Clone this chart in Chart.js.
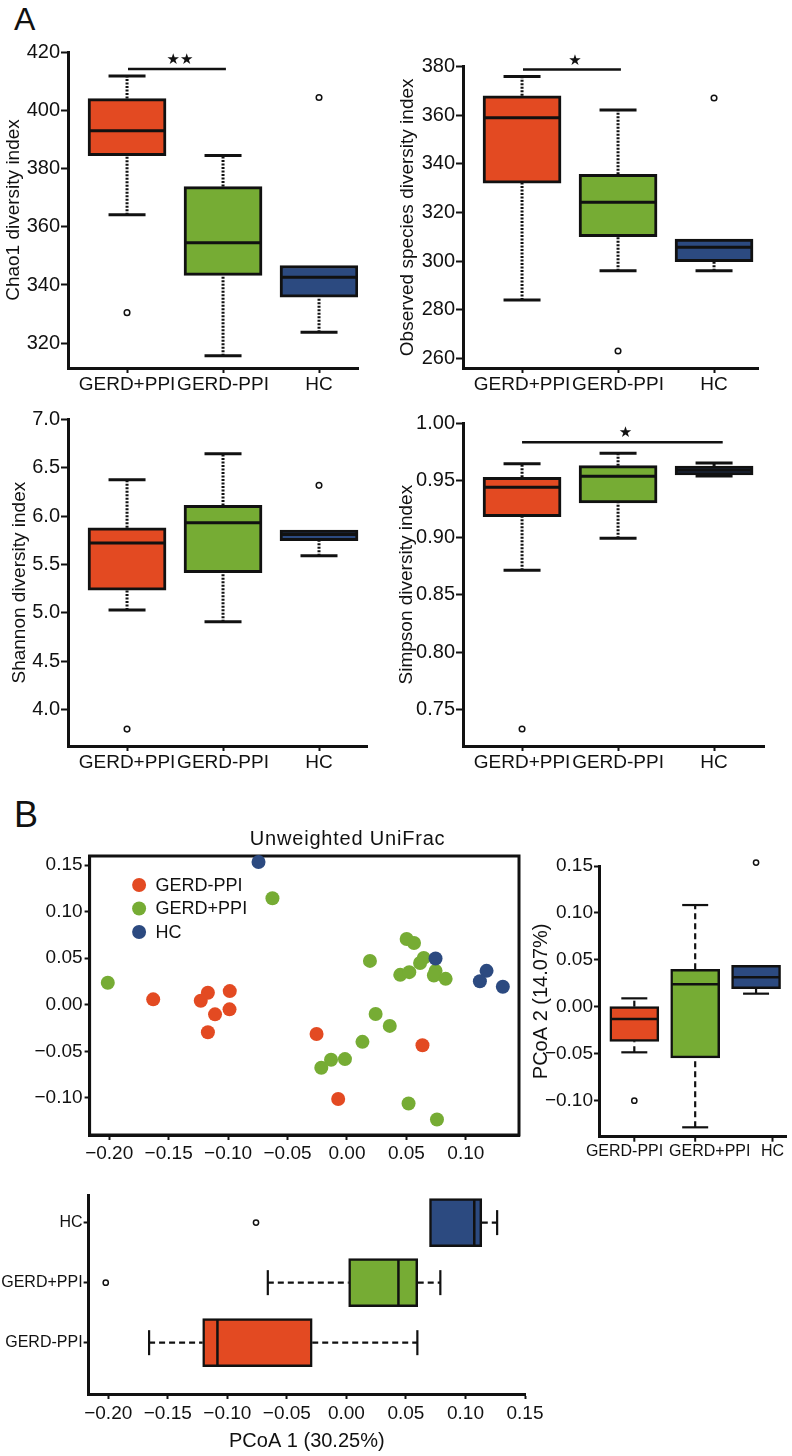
<!DOCTYPE html>
<html>
<head>
<meta charset="utf-8">
<script src="https://cdn.jsdelivr.net/npm/chart.js@4.4.1/dist/chart.umd.min.js"></script>
<style>
  body { margin: 0; background: #fff; width: 792px; height: 1456px; position: relative; overflow: hidden;
         font-family: "Liberation Sans", Arial, sans-serif; }
  canvas { position: absolute; }
  .tag { position: absolute; line-height: 1; color: #111; }
</style>
</head>
<body>
<div class="tag" style="left:14px;top:3px;font-size:32px">A</div>
<div class="tag" style="left:14px;top:797px;font-size:36px">B</div>
<canvas id="chao1"></canvas>
<canvas id="observed"></canvas>
<canvas id="shannon"></canvas>
<canvas id="simpson"></canvas>
<canvas id="pcoa"></canvas>
<canvas id="pcoa2box"></canvas>
<canvas id="pcoa1box"></canvas>
<script>
// ---- données ----
const groupsA = ['GERD+PPI', 'GERD-PPI', 'HC'];

// Chao1
const chao1Lo  = [364.1, 315.7, 323.8];
const chao1Q1  = [384.4, 343.3, 335.8];
const chao1Med = [393.0, 354.5, 342.7];
const chao1Q3  = [404.0, 373.8, 346.7];
const chao1Hi  = [411.8, 384.5, 346.7];
const chao1Out = [[330.5], [], [404.4]];
const chao1Ticks = [320, 340, 360, 380, 400, 420];

// Observed species
const obsLo  = [284.0, 296.0, 296.0];
const obsQ1  = [332.1, 310.0, 299.8];
const obsMed = [359.0, 324.2, 305.7];
const obsQ3  = [368.0, 335.7, 309.1];
const obsHi  = [376.0, 362.2, 309.1];
const obsOut = [[], [263.0], [367.1]];
const obsTicks = [260, 280, 300, 320, 340, 360, 380];

// Shannon
const shanLo  = [5.028, 4.907, 5.590];
const shanQ1  = [5.234, 5.414, 5.745];
const shanMed = [5.720, 5.931, 5.810];
const shanQ3  = [5.879, 6.110, 5.855];
const shanHi  = [6.376, 6.645, 5.855];
const shanOut = [[3.797], [], [6.317]];
const shanTicks = [4.0, 4.5, 5.0, 5.5, 6.0, 6.5, 7.0];

// Simpson
const simpLo  = [0.8715, 0.8995, 0.9540];
const simpQ1  = [0.9184, 0.9304, 0.9548];
const simpMed = [0.9440, 0.9537, 0.9589];
const simpQ3  = [0.9528, 0.9630, 0.9627];
const simpHi  = [0.9647, 0.9738, 0.9653];
const simpOut = [[0.7328], [], []];
const simpTicks = [0.75, 0.80, 0.85, 0.90, 0.95, 1.00];

// PCoA (Unweighted UniFrac)
const gerdMinusX = [-0.163, -0.123, -0.117, -0.0986, -0.0988, -0.111, -0.117, -0.0256, -0.0074, 0.0635];
const gerdMinusY = [0.0058, 0.0043, 0.0129, 0.0147, -0.0049, -0.0103, -0.0295, -0.0313, -0.1011, -0.0434];
const gerdPlusX = [-0.2012, -0.0627, 0.0193, 0.0502, 0.0564, 0.0646, 0.0615, 0.0448, 0.0524, 0.0745,
                   0.0731, 0.0830, 0.0241, 0.0360, 0.0130, -0.0017, -0.0134, -0.0216, 0.0518, 0.0757];
const gerdPlusY = [0.0236, 0.1144, 0.0471, 0.0706, 0.0663, 0.0503, 0.0449, 0.0321, 0.0350, 0.0364,
                   0.0314, 0.0278, -0.0099, -0.0227, -0.0398, -0.0583, -0.0590, -0.0676, -0.1060, -0.1231];
const hcX = [-0.0744, 0.0745, 0.1174, 0.1118, 0.1311];
const hcY = [0.1532, 0.0496, 0.0364, 0.0253, 0.0193];
const pcoaXTicks = [-0.20, -0.15, -0.10, -0.05, 0.00, 0.05, 0.10];
const pcoaYTicks = [-0.10, -0.05, 0.00, 0.05, 0.10, 0.15];

// Boîtes PCoA
const groupsB = ['GERD-PPI', 'GERD+PPI', 'HC'];
const pc2Lo  = [-0.0485, -0.1284, 0.0140];
const pc2Q1  = [-0.0368, -0.0545, 0.0193];
const pc2Med = [-0.0130, 0.0239, 0.0314];
const pc2Q3  = [0.0001, 0.0399, 0.0442];
const pc2Hi  = [0.0090, 0.1084, 0.0442];
const pc2Out = [[-0.100], [], [0.1536]];
const pc2LabelAt = [-0.16, 1.24, 2.27];   // les étiquettes ne sont pas centrées sous les boîtes
const pc2MarkAt = [0, 1, 2.27];

const pc1Lo  = [-0.1657, -0.0660, 0.0698];
const pc1Q1  = [-0.1207, 0.0019, 0.0698];
const pc1Med = [-0.1083, 0.0437, 0.1074];
const pc1Q3  = [-0.0287, 0.0599, 0.1137];
const pc1Hi  = [0.0596, 0.0789, 0.1266];
const pc1Out = [[], [-0.2021], [-0.0759]];
const pc1Ticks = [-0.20, -0.15, -0.10, -0.05, 0.00, 0.05, 0.10, 0.15];

const INK = '#111';
const RED = '#E34A22', GREEN = '#76AC34', BLUE = '#2C4A80';
const colorsA = [RED, GREEN, BLUE];
const colorsB = [RED, GREEN, BLUE];

Chart.defaults.font.family = '"Liberation Sans", Arial, sans-serif';
Chart.defaults.color = INK;

const signed = d => v => (v < -1e-9 ? '\u2212' : '') + Math.abs(v).toFixed(d);

function place(id, r) {
  const c = document.getElementById(id);
  c.width = r.w; c.height = r.h;
  c.style.left = r.l + 'px'; c.style.top = r.t + 'px';
  return c;
}

function axis(o) {
  return {
    type: 'linear', min: o.min, max: o.max, offset: false,
    afterBuildTicks: s => { s.ticks = o.ticks.map(v => ({ value: v })); },
    afterFit: s => { if (s.isHorizontal()) s.height = o.size; else s.width = o.size; },
    ticks: { callback: o.fmt, font: { size: o.font }, color: INK, padding: o.pad,
             autoSkip: false, maxRotation: 0, minRotation: 0 },
    grid: { display: true, offset: false, drawOnChartArea: false, drawTicks: true, tickLength: o.tl,
            tickColor: o.tickColor || INK, tickWidth: 2 },
    border: { display: true, color: INK, width: 3 },
    title: o.title ? { display: true, text: o.title, font: { size: o.tsize }, color: INK,
                       padding: o.tpad } : { display: false }
  };
}

// moustaches, médianes et barre de significativité
const boxPlugin = {
  id: 'boxWhisk',
  beforeDatasetsDraw(chart, args, o) {
    const { ctx } = chart;
    const iS = o.horizontal ? chart.scales.y : chart.scales.x;
    const vS = o.horizontal ? chart.scales.x : chart.scales.y;
    ctx.save();
    ctx.strokeStyle = INK;
    o.lo.forEach((lo, i) => {
      const p = iS.getPixelForValue(i);
      const seg = (a, b) => {
        const pa = vS.getPixelForValue(a), pb = vS.getPixelForValue(b);
        ctx.beginPath();
        ctx.lineWidth = o.lw;
        ctx.setLineDash(o.dash);
        if (o.horizontal) { ctx.moveTo(pa, p); ctx.lineTo(pb, p); }
        else { ctx.moveTo(p, pa); ctx.lineTo(p, pb); }
        ctx.stroke();
      };
      const cap = v => {
        const pv = vS.getPixelForValue(v);
        ctx.beginPath();
        ctx.lineWidth = o.lw;
        ctx.setLineDash([]);
        if (o.horizontal) { ctx.moveTo(pv, p - o.cap); ctx.lineTo(pv, p + o.cap); }
        else { ctx.moveTo(p - o.cap, pv); ctx.lineTo(p + o.cap, pv); }
        ctx.stroke();
      };
      if (o.hi[i] > o.q3[i]) { seg(o.q3[i], o.hi[i]); cap(o.hi[i]); }
      if (lo < o.q1[i]) { seg(lo, o.q1[i]); cap(lo); }
    });
    ctx.restore();
  },
  afterDatasetsDraw(chart, args, o) {
    const { ctx } = chart;
    const iS = o.horizontal ? chart.scales.y : chart.scales.x;
    const vS = o.horizontal ? chart.scales.x : chart.scales.y;
    ctx.save();
    ctx.strokeStyle = INK;
    ctx.lineWidth = o.mw;
    o.med.forEach((m, i) => {
      const p = iS.getPixelForValue(i), pm = vS.getPixelForValue(m);
      ctx.beginPath();
      if (o.horizontal) { ctx.moveTo(pm, p - o.half); ctx.lineTo(pm, p + o.half); }
      else { ctx.moveTo(p - o.half, pm); ctx.lineTo(p + o.half, pm); }
      ctx.stroke();
    });
    if (o.marks) {
      // repères de catégorie dessinés à part des étiquettes
      ctx.lineWidth = 2;
      o.marks.forEach(v => {
        const x = iS.getPixelForValue(v);
        ctx.beginPath(); ctx.moveTo(x, iS.top); ctx.lineTo(x, iS.top + 5); ctx.stroke();
      });
    }
    if (o.sig) {
      const x0 = iS.getPixelForValue(o.sig.from), x1 = iS.getPixelForValue(o.sig.to);
      const y = vS.getPixelForValue(o.sig.y);
      ctx.lineWidth = 2.5;
      ctx.beginPath(); ctx.moveTo(x0, y); ctx.lineTo(x1, y); ctx.stroke();
      ctx.fillStyle = INK;
      ctx.font = '15px "DejaVu Sans"';
      ctx.textAlign = 'center'; ctx.textBaseline = 'middle';
      ctx.fillText(o.sig.text, (x0 + x1) / 2 + 3, y - 9);
    }
    ctx.restore();
  }
};

function boxChart(id, rect, area, c) {
  const cv = place(id, rect);
  const h = !!c.horizontal;
  const boxes = c.q1.map((q, i) => h ? { y: i, x: [q, c.q3[i]] } : { x: i, y: [q, c.q3[i]] });
  const outs = [];
  c.out.forEach((arr, i) => arr.forEach(v => outs.push(h ? { x: v, y: i } : { x: i, y: v })));
  const catFmt = (v, k) => c.groups[k];
  const catAxis = axis({ min: c.cmin, max: c.cmax, ticks: c.labelAt || c.groups.map((g, i) => i), fmt: catFmt,
                         font: c.catFont, pad: c.catPad, tl: 5, tickColor: c.markAt ? 'rgba(0,0,0,0)' : INK,
                         size: h ? area.l - rect.l : rect.t + rect.h - area.b });
  const valAxis = axis({ min: c.vmin, max: c.vmax, ticks: c.vticks, fmt: c.fmt, font: c.tickFont,
                         pad: c.valPad, tl: c.tl, title: c.title, tsize: c.tsize, tpad: c.tpad,
                         size: h ? rect.t + rect.h - area.b : area.l - rect.l });
  return new Chart(cv, {
    type: 'scatter',
    data: {
      datasets: [
        { type: 'bar', indexAxis: h ? 'y' : 'x', data: boxes, backgroundColor: c.colors,
          borderColor: INK, borderWidth: c.bw, borderSkipped: false, barThickness: c.thick },
        { type: 'scatter', data: outs, pointRadius: c.or, pointBackgroundColor: '#fff',
          pointBorderColor: INK, pointBorderWidth: 1.5, clip: false }
      ]
    },
    options: {
      responsive: false, animation: false, events: [],
      layout: { padding: { left: 0, top: area.t - rect.t, right: rect.l + rect.w - area.r, bottom: 0 } },
      scales: h ? { x: valAxis, y: catAxis } : { x: catAxis, y: valAxis },
      plugins: {
        legend: { display: false }, tooltip: { enabled: false },
        boxWhisk: { horizontal: h, lo: c.lo, q1: c.q1, med: c.med, q3: c.q3, hi: c.hi, marks: c.markAt,
                    cap: c.cap, half: c.thick / 2 - 1, lw: c.lw, mw: c.mw, dash: c.dash, sig: c.sig }
      }
    },
    plugins: [boxPlugin]
  });
}

// ---- panneau A ----
const aStyle = { groups: groupsA, colors: colorsA, catFont: 19, catPad: 0, tickFont: 20, valPad: 1, tl: 7,
                 tsize: 19, thick: 78, cap: 18.5, bw: 3, lw: 3, mw: 3, dash: [2, 1.5], or: 2.8,
                 cmin: -0.615 };

boxChart('chao1', { l: 0, t: 30, w: 395, h: 370 }, { l: 68, r: 358, t: 52, b: 368 },
  Object.assign({}, aStyle, { lo: chao1Lo, q1: chao1Q1, med: chao1Med, q3: chao1Q3, hi: chao1Hi, out: chao1Out,
    vmin: 311.5, vmax: 420, vticks: chao1Ticks, fmt: v => String(v), cmax: 2.406,
    title: 'Chao1 diversity index', tpad: { top: 2.6, bottom: 0 },
    sig: { from: 0.01, to: 1.03, y: 414.2, text: '\u2605\u2605' } }));

boxChart('observed', { l: 395, t: 30, w: 397, h: 370 }, { l: 463, r: 758, t: 66.7, b: 368 },
  Object.assign({}, aStyle, { lo: obsLo, q1: obsQ1, med: obsMed, q3: obsQ3, hi: obsHi, out: obsOut,
    vmin: 256, vmax: 380, vticks: obsTicks, fmt: v => String(v), cmax: 2.458,
    title: 'Observed species diversity index', tpad: { top: 1.6, bottom: 0 },
    sig: { from: 0.01, to: 1.03, y: 378.8, text: '\u2605' } }));

boxChart('shannon', { l: 0, t: 400, w: 395, h: 380 }, { l: 68, r: 367, t: 419.3, b: 746 },
  Object.assign({}, aStyle, { lo: shanLo, q1: shanQ1, med: shanMed, q3: shanQ3, hi: shanHi, out: shanOut,
    vmin: 3.622, vmax: 7.0, vticks: shanTicks, fmt: v => v.toFixed(1), cmax: 2.5,
    title: 'Shannon diversity index', tpad: { top: 8.6, bottom: 0 } }));

boxChart('simpson', { l: 395, t: 400, w: 397, h: 380 }, { l: 463, r: 764, t: 423.3, b: 746 },
  Object.assign({}, aStyle, { lo: simpLo, q1: simpQ1, med: simpMed, q3: simpQ3, hi: simpHi, out: simpOut,
    vmin: 0.7179, vmax: 1.0, vticks: simpTicks, fmt: v => v.toFixed(2), cmax: 2.52,
    title: 'Simpson diversity index', tpad: { top: 0.6, bottom: 0 },
    sig: { from: 0, to: 2.09, y: 0.9834, text: '\u2605' } }));

// ---- panneau B : nuage PCoA ----
const zip = (xs, ys) => xs.map((x, i) => ({ x, y: ys[i] }));
const legendItems = [['GERD-PPI', RED], ['GERD+PPI', GREEN], ['HC', BLUE]];

const pcoaDeco = {
  id: 'pcoaDeco',
  beforeDatasetsDraw(chart) {
    const { ctx, chartArea: a } = chart;
    ctx.save();
    ctx.strokeStyle = INK; ctx.lineWidth = 3;
    ctx.strokeRect(a.left, a.top, a.right - a.left, a.bottom - a.top);
    ctx.restore();
  },
  afterDraw(chart) {
    const { ctx, chartArea: a } = chart;
    ctx.save();
    ctx.fillStyle = INK;
    ctx.font = '20px "Liberation Sans", Arial, sans-serif';
    ctx.letterSpacing = '0.8px';
    ctx.textAlign = 'center'; ctx.textBaseline = 'middle';
    ctx.fillText('Unweighted UniFrac', a.left + 258, a.top - 17);
    ctx.letterSpacing = '0px';
    ctx.font = '18px "Liberation Sans", Arial, sans-serif';
    ctx.textAlign = 'left';
    legendItems.forEach(([t, col], i) => {
      const y = a.top + 29 + i * 23.5;
      ctx.fillStyle = col;
      ctx.beginPath(); ctx.arc(a.left + 49.5, y, 7, 0, Math.PI * 2); ctx.fill();
      ctx.fillStyle = INK;
      ctx.fillText(t, a.left + 66, y + 1);
    });
    ctx.restore();
  }
};

const pRect = { l: 0, t: 815, w: 528, h: 350 }, pArea = { l: 89.6, r: 519, t: 856, b: 1135 };
const dot = (col) => ({ backgroundColor: col, borderColor: col, pointRadius: 7, pointBorderWidth: 0, clip: false });
new Chart(place('pcoa', pRect), {
  type: 'scatter',
  data: {
    datasets: [
      Object.assign({ label: 'HC', data: zip(hcX, hcY) }, dot(BLUE)),
      Object.assign({ label: 'GERD+PPI', data: zip(gerdPlusX, gerdPlusY) }, dot(GREEN)),
      Object.assign({ label: 'GERD-PPI', data: zip(gerdMinusX, gerdMinusY) }, dot(RED))
    ]
  },
  options: {
    responsive: false, animation: false, events: [],
    layout: { padding: { left: 0, top: pArea.t - pRect.t, right: pRect.l + pRect.w - pArea.r, bottom: 0 } },
    scales: {
      x: axis({ min: -0.2165, max: 0.1447, ticks: pcoaXTicks, fmt: signed(2), font: 19, pad: 2.5, tl: 5,
                size: pRect.t + pRect.h - pArea.b }),
      y: axis({ min: -0.1398, max: 0.1597, ticks: pcoaYTicks, fmt: signed(2), font: 19, pad: 2, tl: 5,
                size: pArea.l - pRect.l })
    },
    plugins: { legend: { display: false }, tooltip: { enabled: false } }
  },
  plugins: [pcoaDeco]
});

// ---- panneau B : boîtes PCoA 2 et PCoA 1 ----
const bStyle = { groups: groupsB, colors: colorsB, bw: 2.5, lw: 2.2, mw: 2.5, dash: [6, 4], or: 2.6, tl: 5 };

boxChart('pcoa2box', { l: 528, t: 840, w: 264, h: 325 }, { l: 599, r: 790, t: 866, b: 1136.7 },
  Object.assign({}, bStyle, { lo: pc2Lo, q1: pc2Q1, med: pc2Med, q3: pc2Q3, hi: pc2Hi, out: pc2Out,
    vmin: -0.1384, vmax: 0.15, vticks: pcoaYTicks, fmt: signed(2), cmin: -0.58, cmax: 2.5,
    labelAt: pc2LabelAt, markAt: pc2MarkAt,
    catFont: 16, catPad: 0, tickFont: 19, valPad: 1, thick: 49, cap: 13,
    title: 'PCoA 2 (14.07%)', tsize: 20, tpad: { top: 1, bottom: 0 } }));

boxChart('pcoa1box', { l: 0, t: 1175, w: 560, h: 281 }, { l: 88.6, r: 525, t: 1195, b: 1394 },
  Object.assign({}, bStyle, { horizontal: true, lo: pc1Lo, q1: pc1Q1, med: pc1Med, q3: pc1Q3, hi: pc1Hi,
    out: pc1Out, vmin: -0.2165, vmax: 0.15, vticks: pc1Ticks, fmt: signed(2), cmin: -0.855, cmax: 2.46,
    catFont: 16, catPad: 1, tickFont: 19, valPad: 3, thick: 48, cap: 12.5,
    title: 'PCoA 1 (30.25%)', tsize: 20, tpad: { top: 0, bottom: 2.3 } }));
</script>
</body>
</html>
